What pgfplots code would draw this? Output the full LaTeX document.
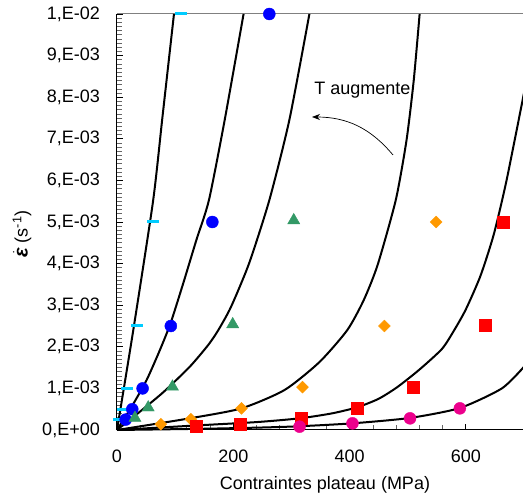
\documentclass[border=0pt]{standalone}
\usepackage{pgfplots}
\pgfplotsset{compat=1.18}
\usetikzlibrary{arrows.meta}
\usepackage{fontspec}
\setmainfont{Liberation Sans}
\usepackage{amsmath}
\definecolor{cyanm}{RGB}{0,204,255}
\definecolor{greenm}{RGB}{51,153,102}
\definecolor{orangem}{RGB}{255,153,0}
\begin{document}
\fontsize{18}{21}\selectfont
\begin{tikzpicture}
\useasboundingbox (-117pt,-67pt) rectangle (406pt,430pt);
\begin{axis}[
  at={(0pt,0pt)}, anchor=south west,
  scale only axis, width=407pt, height=416pt,
  xmin=0, xmax=700, ymin=0, ymax=0.01,
  axis lines*=left,
  axis line style={black, line width=1pt},
  clip=false,
  tick align=inside,
  major tick length=6pt, minor tick length=5pt,
  xtick={0,200,400,600}, xticklabels={0,200,400,600},
  minor x tick num=4,
  ytick={0,0.001,0.002,0.003,0.004,0.005,0.006,0.007,0.008,0.009,0.01},
  yticklabels={{0,E+00},{1,E-03},{2,E-03},{3,E-03},{4,E-03},{5,E-03},{6,E-03},{7,E-03},{8,E-03},{9,E-03},{1,E-02}},
  scaled y ticks=false,
  minor y tick num=9,
  major tick style={black, line width=0.8pt},
  minor tick style={black!60, line width=0.6pt},
  xticklabel style={yshift=-14pt, font=\fontsize{18}{21}\selectfont},
  yticklabel style={xshift=-11pt, font=\fontsize{18}{21}\selectfont},
  extra y ticks={0.01}, extra y tick labels={},
  extra y tick style={grid=major, major grid style={gray, line width=1pt}},
  curve/.style={black, line width=2pt, smooth, tension=0.4},
]
% fitted curves
\addplot[curve] coordinates {(0,0) (28,0.0024) (62,0.0055) (78,0.0075) (98,0.01)};
\addplot[curve] coordinates {(0,0) (25.2,0.00056) (50.9,0.0012) (73.7,0.00192) (92.2,0.00257) (114,0.00353) (136.6,0.00457) (158.2,0.00553) (185.2,0.00745) (217.7,0.01)};
\addplot[curve] coordinates {(0,0) (39.4,0.00044) (80.6,0.00092) (125.1,0.00152) (156.7,0.00204) (174.2,0.0024) (196.1,0.00296) (227.3,0.00401) (262.1,0.00553) (296.4,0.00745) (330.9,0.01)};
\addplot[curve] coordinates {(0,0) (125,0.00028) (214,0.00052) (288,0.00096) (348,0.00163) (396,0.0024) (424.3,0.00312) (448.3,0.00397) (479.5,0.00553) (498,0.00697) (510.4,0.00841) (520.5,0.01)};
\addplot[curve] coordinates {(0,0) (137,0.00011) (240,0.00019) (314,0.00028) (370,0.0004) (414,0.00055) (450,0.00075) (482,0.00103) (520,0.00145) (559,0.00195) (580,0.0024) (600,0.0029) (625,0.0037) (648,0.0047) (670,0.006) (700,0.0081)};
\addplot[curve] coordinates {(0,0) (150,0.00003) (250,0.00006) (314,0.00009) (405,0.00016) (504,0.00029) (590,0.00053) (662,0.001) (700,0.00152)};
% measured points
\addplot[only marks, mark=-, mark size=6pt, color=cyanm, mark options={line width=3pt}] coordinates {(110,0.01) (62,0.005) (34,0.0025) (17,0.001) (10,0.0005) (3.4,0.00025)};
\addplot[only marks, mark=*, mark size=6pt, color=blue] coordinates {(262,0.01) (164,0.005) (92.6,0.0025) (44,0.001) (26.3,0.0005) (14.9,0.00025)};
\addplot[only marks, mark=triangle*, mark size=7pt, color=greenm] coordinates {(304,0.00504) (199,0.00254) (95.4,0.00104) (53.7,0.00054) (30.9,0.00029)};
\addplot[only marks, mark=square*, mark size=4.2pt, color=orangem, mark options={rotate=45}] coordinates {(75.4,0.00014) (127,0.00026) (214,0.00052) (319,0.00103) (460,0.0025) (549,0.005)};
\addplot[only marks, mark=square*, mark size=6pt, color=red] coordinates {(135.4,0.00008) (212,0.00014) (316.6,0.00028) (412.6,0.00052) (509,0.00103) (633.8,0.00252) (663.5,0.005)};
\addplot[only marks, mark=*, mark size=6pt, color=magenta] coordinates {(314,0.00008) (405,0.00016) (504,0.00028) (589.7,0.00052)};
\end{axis}
\node[rotate=90] at (-95pt,196pt) {$\dot{\text{\fontsize{20}{22}\selectfont\bfseries\itshape ε}}$ (s\textsuperscript{-1})};
\node[anchor=base] at (208pt,-60pt) {Contraintes plateau (MPa)};
\node[anchor=base] at (245.5pt,335pt) {T augmente};
\draw[-{Stealth[length=8pt,width=6pt]}, line width=0.7pt] (276pt,275pt) to[bend right=25] (195pt,313pt);
\end{tikzpicture}
\end{document}
